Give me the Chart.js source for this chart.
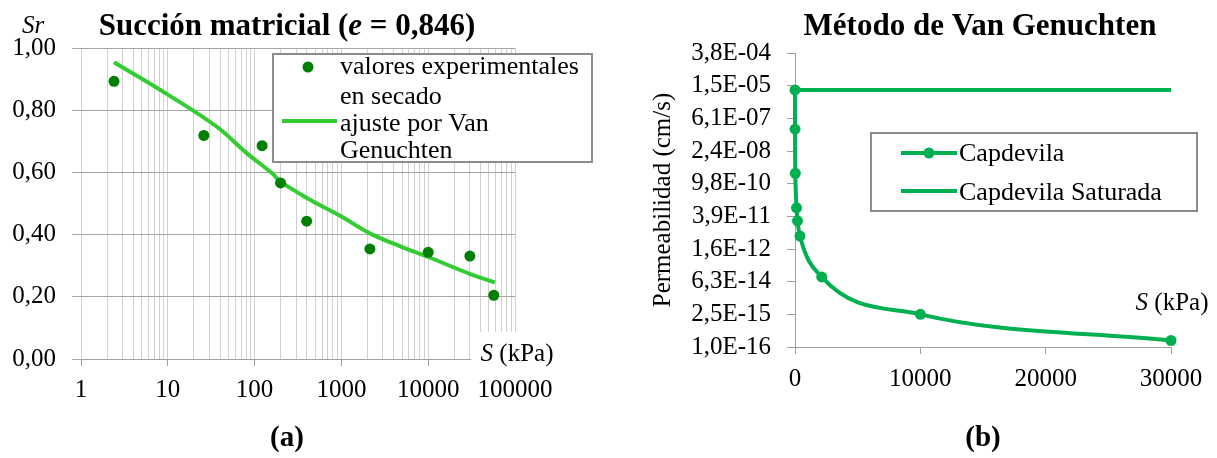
<!DOCTYPE html>
<html>
<head>
<meta charset="utf-8">
<script src="https://cdn.jsdelivr.net/npm/chart.js@4"></script>
<style>
  body { margin: 0; background: #fff; }
  #left { position: absolute; left: 0; top: 0; }
  #right { position: absolute; left: 610px; top: 0; }
</style>
</head>
<body>
<canvas id="left" width="610" height="458"></canvas>
<canvas id="right" width="607" height="458"></canvas>
<script>
// --- Datos (a): succión matricial ---
const sExp = [2.4, 26, 122, 199, 398, 2130, 10000, 30200, 57000];
const srExp = [0.893, 0.719, 0.686, 0.566, 0.443, 0.354, 0.343, 0.331, 0.205];
const sFit = [2.4, 10, 37, 81, 158, 199, 436, 1000, 2130, 5000, 10000, 30000, 58600];
const srFit = [0.954, 0.85, 0.746, 0.662, 0.598, 0.57, 0.512, 0.458, 0.404, 0.36, 0.328, 0.274, 0.246];
const xDecades = [1, 10, 100, 1000, 10000, 100000];
const srTicks = [0, 0.2, 0.4, 0.6, 0.8, 1.0];
const srTickLabels = ['0,00', '0,20', '0,40', '0,60', '0,80', '1,00'];
const expLabel = ['valores experimentales', 'en secado'];
const fitLabel = ['ajuste por Van', 'Genuchten'];

// --- Datos (b): permeabilidad ---
const sCap = [0, 2.4, 26, 122, 199, 398, 2130, 10000, 30000];
const kCap = [1.0e-5, 2.1e-7, 2.7e-9, 9e-11, 2.5e-11, 5.6e-12, 1.0e-13, 2.5e-15, 1.9e-16];
const sSat = [0, 30000];
const kSat = [1.0e-5, 1.0e-5];
const kTicks = [1.0e-16, 2.5e-15, 6.25e-14, 1.5625e-12, 3.90625e-11, 9.765625e-10, 2.44140625e-8, 6.103515625e-7, 1.52587890625e-5, 3.814697265625e-4];
const kTickLabels = ['1,0E-16', '2,5E-15', '6,3E-14', '1,6E-12', '3,9E-11', '9,8E-10', '2,4E-08', '6,1E-07', '1,5E-05', '3,8E-04'];
const sTicks = [0, 10000, 20000, 30000];
const capLabels = ['Capdevila', 'Capdevila Saturada'];

const serif = '"Liberation Serif", "Times New Roman", serif';
Chart.defaults.font.family = serif;
Chart.defaults.color = '#000';

const toXY = (xs, ys) => xs.map((x, i) => ({ x: x, y: ys[i] }));

// texto con partes en distinta fuente
function drawRuns(ctx, runs, cx, y) {
    let w = 0;
    runs.forEach(r => { ctx.font = r[1]; w += ctx.measureText(r[0]).width; });
    let x = cx - w / 2;
    runs.forEach(r => { ctx.font = r[1]; ctx.fillText(r[0], x, y); x += ctx.measureText(r[0]).width; });
}

// minor grid of the log axis
const xGridValues = [];
xDecades.forEach(d => {
    for (let m = 1; m <= 9; m++) {
        if (d * m <= 100000) xGridValues.push(d * m);
    }
});

const leftDecor = {
    id: 'leftDecor',
    afterDraw(chart) {
        const ctx = chart.ctx;
        ctx.save();
        ctx.fillStyle = '#000';
        ctx.textBaseline = 'alphabetic';
        ctx.textAlign = 'left';
        drawRuns(ctx, [['Succión matricial (', 'bold 31px ' + serif], ['e', 'italic bold 31px ' + serif], [' = 0,846)', 'bold 31px ' + serif]], 287, 35);
        ctx.font = 'italic 25px ' + serif;
        ctx.fillText('Sr', 22, 33);

        // etiqueta del eje x
        ctx.fillStyle = '#fff';
        ctx.fillRect(471, 332, 110, 36);
        ctx.fillStyle = '#000';
        drawRuns(ctx, [['S', 'italic 25px ' + serif], [' (kPa)', '25px ' + serif]], 517, 361);

        // leyenda
        ctx.fillStyle = '#fff';
        ctx.fillRect(273, 54, 319, 108);
        ctx.strokeStyle = '#8c8c8c';
        ctx.lineWidth = 2;
        ctx.strokeRect(273, 54, 319, 108);
        ctx.fillStyle = '#008000';
        ctx.beginPath();
        ctx.arc(308, 67, 5.5, 0, Math.PI * 2);
        ctx.fill();
        ctx.strokeStyle = '#33cc33';
        ctx.lineWidth = 4;
        ctx.beginPath();
        ctx.moveTo(282, 121);
        ctx.lineTo(337, 121);
        ctx.stroke();
        ctx.fillStyle = '#000';
        ctx.font = '26px ' + serif;
        ctx.fillText(expLabel[0], 340, 74);
        ctx.fillText(expLabel[1], 340, 104);
        ctx.fillText(fitLabel[0], 340, 131);
        ctx.fillText(fitLabel[1], 340, 158);

        ctx.font = 'bold 29px ' + serif;
        ctx.textAlign = 'center';
        ctx.fillText('(a)', 287, 446);
        ctx.restore();
    }
};

new Chart(document.getElementById('left'), {
    type: 'scatter',
    data: {
        datasets: [
            {
                label: expLabel.join(' '),
                data: toXY(sExp, srExp),
                showLine: false,
                pointRadius: 5.5,
                pointBorderWidth: 0,
                pointBackgroundColor: '#008000',
                clip: false
            },
            {
                label: fitLabel.join(' '),
                data: toXY(sFit, srFit),
                showLine: true,
                pointRadius: 0,
                borderColor: '#33cc33',
                borderWidth: 4,
                tension: 0.4,
                clip: false
            }
        ]
    },
    options: {
        responsive: false,
        animation: false,
        layout: { padding: { top: 48, left: 0, right: 95, bottom: 0 } },
        scales: {
            x: {
                type: 'logarithmic',
                min: 1,
                max: 100000,
                afterBuildTicks: s => { s.ticks = xGridValues.map(v => ({ value: v })); },
                afterFit: s => { s.height = 99; },
                grid: {
                    color: '#d0d0d0',
                    tickLength: 7,
                    tickColor: c => xDecades.includes(c.tick.value) ? '#a0a0a0' : 'rgba(0,0,0,0)'
                },
                border: { color: '#a0a0a0' },
                ticks: {
                    autoSkip: false,
                    maxRotation: 0,
                    padding: 9,
                    font: { size: 25 },
                    callback: v => xDecades.includes(v) ? String(v) : ''
                }
            },
            y: {
                min: 0,
                max: 1,
                afterBuildTicks: s => { s.ticks = srTicks.map(v => ({ value: v })); },
                afterFit: s => { s.width = 81; },
                grid: { color: '#a6a6a6', tickLength: 9 },
                border: { display: false },
                ticks: {
                    autoSkip: false,
                    padding: 16,
                    font: { size: 25 },
                    callback: (v, i) => srTickLabels[i]
                }
            }
        },
        plugins: { legend: { display: false }, tooltip: { enabled: false } }
    },
    plugins: [leftDecor]
});

const rightDecor = {
    id: 'rightDecor',
    afterDraw(chart) {
        const ctx = chart.ctx;
        ctx.save();
        ctx.fillStyle = '#000';
        ctx.textBaseline = 'alphabetic';
        ctx.textAlign = 'left';
        drawRuns(ctx, [['Método de Van Genuchten', 'bold 31px ' + serif]], 370, 35);
        drawRuns(ctx, [['S', 'italic 25px ' + serif], [' (kPa)', '25px ' + serif]], 562, 310);

        ctx.save();
        ctx.translate(53, 200);
        ctx.rotate(-Math.PI / 2);
        ctx.font = '25px ' + serif;
        ctx.textAlign = 'center';
        ctx.textBaseline = 'middle';
        ctx.fillText('Permeabilidad (cm/s)', 0, 0);
        ctx.restore();

        // leyenda
        ctx.fillStyle = '#fff';
        ctx.fillRect(261, 133, 326, 78);
        ctx.strokeStyle = '#8c8c8c';
        ctx.lineWidth = 2;
        ctx.strokeRect(261, 133, 326, 78);
        ctx.strokeStyle = '#00b050';
        ctx.lineWidth = 4;
        ctx.beginPath();
        ctx.moveTo(291, 153); ctx.lineTo(347, 153);
        ctx.moveTo(291, 191); ctx.lineTo(347, 191);
        ctx.stroke();
        ctx.fillStyle = '#00b050';
        ctx.beginPath();
        ctx.arc(319, 153, 5.5, 0, Math.PI * 2);
        ctx.fill();
        ctx.fillStyle = '#000';
        ctx.font = '26px ' + serif;
        ctx.fillText(capLabels[0], 349, 161);
        ctx.fillText(capLabels[1], 349, 200);

        ctx.font = 'bold 29px ' + serif;
        ctx.textAlign = 'center';
        ctx.fillText('(b)', 373, 446);
        ctx.restore();
    }
};

new Chart(document.getElementById('right'), {
    type: 'scatter',
    data: {
        datasets: [
            {
                label: capLabels[0],
                data: toXY(sCap, kCap),
                showLine: true,
                borderColor: '#00b050',
                borderWidth: 4,
                pointRadius: 5.5,
                pointBorderWidth: 0,
                pointBackgroundColor: '#00b050',
                cubicInterpolationMode: 'monotone',
                clip: false
            },
            {
                label: capLabels[1],
                data: toXY(sSat, kSat),
                showLine: true,
                borderColor: '#00b050',
                borderWidth: 4,
                pointRadius: 0,
                clip: false
            }
        ]
    },
    options: {
        responsive: false,
        animation: false,
        layout: { padding: { top: 53, left: 0, right: 46, bottom: 0 } },
        scales: {
            x: {
                type: 'linear',
                min: 0,
                max: 30000,
                afterBuildTicks: s => { s.ticks = sTicks.map(v => ({ value: v })); },
                afterFit: s => { s.height = 111; },
                grid: { drawOnChartArea: false, tickLength: 7, tickColor: '#a0a0a0' },
                border: { color: '#a0a0a0' },
                ticks: { autoSkip: false, maxRotation: 0, padding: 10, font: { size: 25 }, callback: v => String(v) }
            },
            y: {
                type: 'logarithmic',
                min: kTicks[0],
                max: kTicks[kTicks.length - 1],
                afterBuildTicks: s => { s.ticks = kTicks.map(v => ({ value: v })); },
                afterFit: s => { s.width = 185; },
                grid: { drawOnChartArea: false, tickLength: 8, tickColor: '#a0a0a0' },
                border: { color: '#a0a0a0' },
                ticks: { autoSkip: false, padding: 16, font: { size: 25 }, callback: (v, i) => kTickLabels[i] }
            }
        },
        plugins: { legend: { display: false }, tooltip: { enabled: false } }
    },
    plugins: [rightDecor]
});
</script>
</body>
</html>
